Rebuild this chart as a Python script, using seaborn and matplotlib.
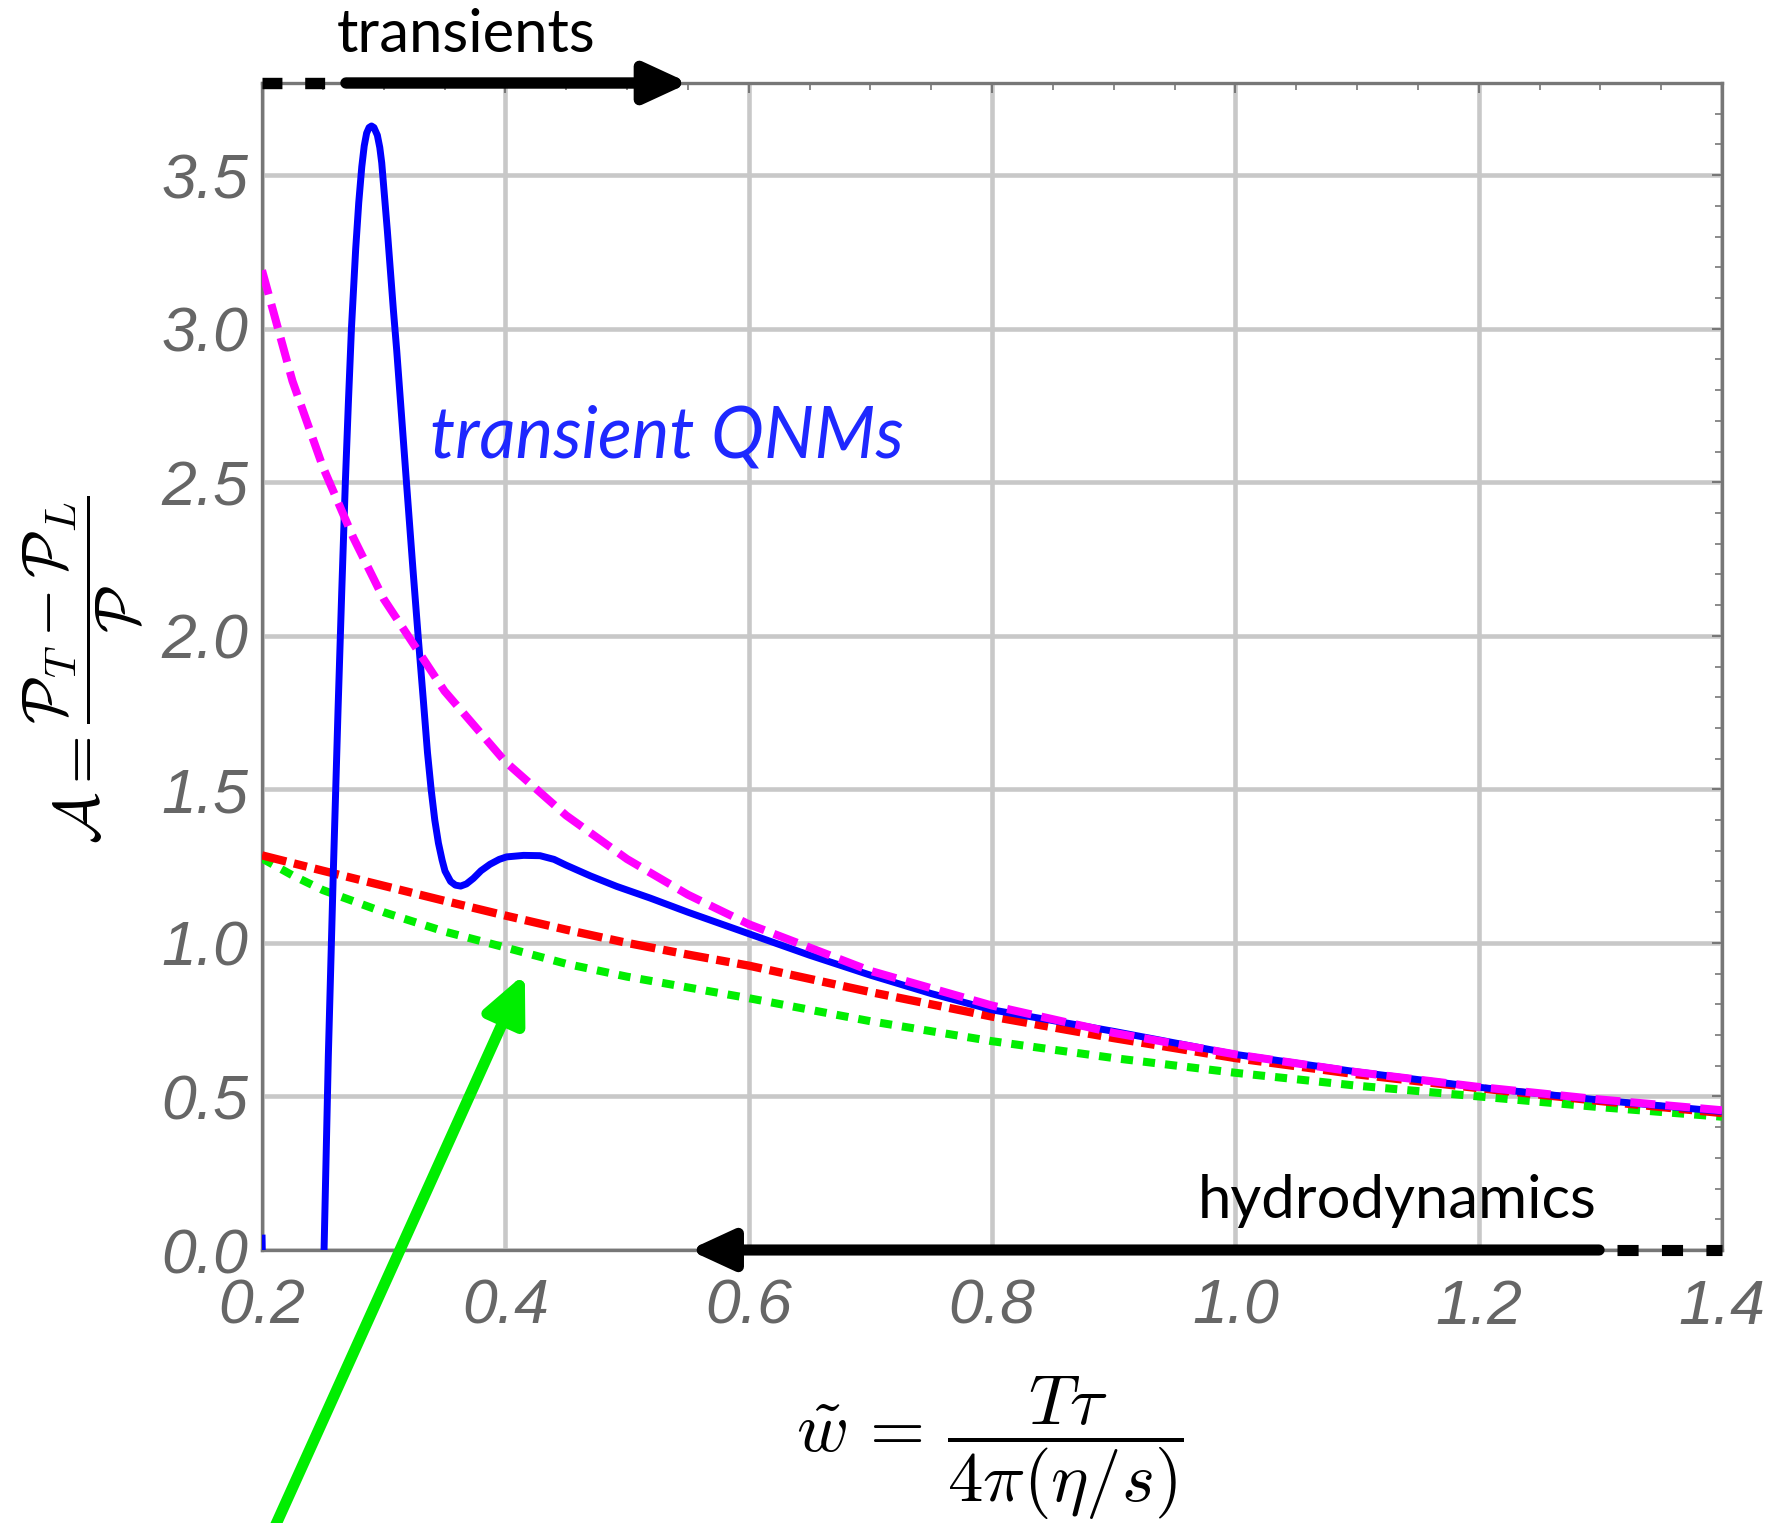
import matplotlib
matplotlib.use("Agg")
import matplotlib.pyplot as plt
import seaborn as sns
import pandas as pd
from matplotlib.ticker import MultipleLocator

# ---------------- data ----------------
blue_x = [0.200, 0.202, 0.210, 0.225, 0.240, 0.251, 0.2545, 0.2586, 0.2625, 0.2655,
          0.2685, 0.2710, 0.2735, 0.2770, 0.2795, 0.2820, 0.2840, 0.2860, 0.2880, 0.2900,
          0.2920, 0.2948, 0.2968, 0.2984, 0.3007, 0.3030, 0.3055, 0.3080, 0.3107, 0.3150,
          0.3189, 0.3240, 0.3285, 0.3326, 0.3360, 0.3390, 0.3420, 0.3450, 0.3480, 0.3504,
          0.3550, 0.3590, 0.3633, 0.3680, 0.3737, 0.3800, 0.3874, 0.3950, 0.4010, 0.4150,
          0.4285, 0.4400, 0.4500, 0.4700, 0.4915, 0.5190, 0.5500,
          0.600, 0.650, 0.700, 0.750, 0.800, 0.900, 1.000, 1.100, 1.200, 1.300, 1.400]
blue_y = [0.05, -0.40, -1.60, -2.20, -1.60, 0.00, 0.63, 1.23, 1.76, 2.14,
          2.50, 2.76, 3.00, 3.26, 3.41, 3.527, 3.595, 3.637, 3.655, 3.660,
          3.655, 3.630, 3.590, 3.540, 3.430, 3.320, 3.190, 3.060, 2.930, 2.700,
          2.490, 2.220, 1.990, 1.790, 1.620, 1.500, 1.400, 1.325, 1.270, 1.234,
          1.200, 1.188, 1.185, 1.192, 1.210, 1.235, 1.256, 1.272, 1.280, 1.285,
          1.284, 1.272, 1.253, 1.218, 1.184, 1.146, 1.100,
          1.030, 0.960, 0.895, 0.835, 0.782, 0.712, 0.637, 0.580, 0.530, 0.488, 0.451]

magenta_x = [0.200, 0.225, 0.250, 0.275, 0.300, 0.350, 0.400, 0.450, 0.500, 0.550,
             0.600, 0.700, 0.800, 0.900, 1.000, 1.100, 1.200, 1.300, 1.400]
magenta_y = [3.19, 2.83, 2.55, 2.32, 2.12, 1.82, 1.59, 1.415, 1.273, 1.157,
             1.061, 0.909, 0.796, 0.707, 0.637, 0.579, 0.531, 0.490, 0.455]

red_x = [0.200, 0.250, 0.300, 0.350, 0.400, 0.450, 0.500, 0.550, 0.600, 0.700,
         0.800, 0.900, 1.000, 1.100, 1.200, 1.300, 1.400]
red_y = [1.285, 1.235, 1.186, 1.137, 1.089, 1.043, 1.000, 0.962, 0.926, 0.840,
         0.760, 0.690, 0.625, 0.572, 0.527, 0.485, 0.446]

green_x = [0.200, 0.225, 0.250, 0.300, 0.350, 0.400, 0.450, 0.500, 0.600, 0.700,
           0.800, 0.900, 1.000, 1.100, 1.200, 1.300, 1.400]
green_y = [1.275, 1.220, 1.172, 1.100, 1.037, 0.985, 0.932, 0.890, 0.820, 0.745,
           0.680, 0.625, 0.577, 0.535, 0.500, 0.465, 0.434]

x_ticks = [0.2, 0.4, 0.6, 0.8, 1.0, 1.2, 1.4]
x_tick_labels = ["0.2", "0.4", "0.6", "0.8", "1.0", "1.2", "1.4"]
y_ticks = [0.0, 0.5, 1.0, 1.5, 2.0, 2.5, 3.0, 3.5]
y_tick_labels = ["0.0", "0.5", "1.0", "1.5", "2.0", "2.5", "3.0", "3.5"]

# ---------------- style ----------------
sns.set_theme(style="white")
plt.rcParams["mathtext.fontset"] = "cm"
plt.rcParams["font.family"] = ["DejaVu Sans"]
plt.rcParams["lines.scale_dashes"] = True

fig = plt.figure(figsize=(17.72, 15.23), dpi=100)
ax = fig.add_axes([0.14786, 0.17925, 0.82393, 0.76625])

GRID = "#c8c8c8"
FRAME = "#777777"
TICKTXT = "#666666"

series = [
    (pd.DataFrame({"x": green_x, "y": green_y}), "#00ee00", 5.8, (0, (1.5, 1.25)), 3),
    (pd.DataFrame({"x": red_x, "y": red_y}), "#ff0000", 6.0, (0, (3.0, 0.95, 1.6, 0.95)), 4),
    (pd.DataFrame({"x": blue_x, "y": blue_y}), "#0000ff", 5.0, "-", 5),
    (pd.DataFrame({"x": magenta_x, "y": magenta_y}), "#ff00ff", 5.8, (0, (3.1, 1.25)), 6),
]
for df, col, lw, ls, z in series:
    n_before = len(ax.lines)
    sns.lineplot(data=df, x="x", y="y", ax=ax, color=col,
                 estimator=None, sort=False, zorder=z)
    for ln in ax.lines[n_before:]:
        ln.set_linewidth(lw)
        ln.set_linestyle(ls)
        ln.set_dash_capstyle("butt")
        ln.set_solid_joinstyle("round")
        ln.set_solid_capstyle("butt")

ax.set_xlim(0.2, 1.4)
ax.set_ylim(0.0, 3.8)
ax.set_xticks(x_ticks)
ax.set_xticklabels(x_tick_labels)
ax.set_yticks(y_ticks)
ax.set_yticklabels(y_tick_labels)
ax.xaxis.set_minor_locator(MultipleLocator(0.05))
ax.yaxis.set_minor_locator(MultipleLocator(0.1))

ax.grid(True, which="major", color=GRID, lw=3.3, zorder=0)
ax.set_axisbelow(True)
for sp in ax.spines.values():
    sp.set_color(FRAME)
    sp.set_linewidth(2.4)
    sp.set_zorder(2)

ax.tick_params(which="both", direction="in", top=True, right=True,
               color=FRAME, labeltop=False, labelright=False)
ax.tick_params(which="major", length=7, width=1.5)
ax.tick_params(which="minor", length=5, width=1.2)
ax.tick_params(axis="x", which="major", pad=20)
ax.tick_params(axis="y", which="major", pad=10)
for lbl in ax.get_xticklabels() + ax.get_yticklabels():
    lbl.set_fontfamily("Liberation Sans")
    lbl.set_fontstyle("italic")
    lbl.set_fontsize(45)
    lbl.set_color(TICKTXT)

ax.set_xlabel(r"$\tilde{w}\,=\,\dfrac{T\tau}{4\pi(\eta/s)}$", fontsize=51, color="black")
ax.xaxis.set_label_coords(0.4986, -0.107)
ax.set_ylabel(r"$\mathcal{A}=\dfrac{\mathcal{P}_T-\mathcal{P}_L}{\mathcal{P}}$",
              fontsize=45, color="black")
ax.yaxis.set_label_coords(-0.080, 0.497)

# ---------------- annotations ----------------
BLK = "black"
# top: dashed lead-in, then solid arrow
ax.plot([0.2, 0.269], [3.8, 3.8], color=BLK, lw=8.2, linestyle=(0, (1.75, 2.0)),
        solid_capstyle="butt", dash_capstyle="butt", clip_on=False, zorder=8)
ax.annotate("", xy=(0.551, 3.8), xytext=(0.269, 3.8),
            arrowprops=dict(arrowstyle="-|>,head_length=26,head_width=12",
                            mutation_scale=1, lw=8.2, color=BLK,
                            shrinkA=0, shrinkB=0),
            annotation_clip=False, zorder=8)
ax.text(0.368, (1250 - 52) / 307.1, "transients",
        fontsize=43, family="Lato", color=BLK, ha="center", va="baseline")

# bottom: solid arrow pointing left, then dashed tail
ax.annotate("", xy=(0.551, 0.0), xytext=(1.299, 0.0),
            arrowprops=dict(arrowstyle="-|>,head_length=26,head_width=12",
                            mutation_scale=1, lw=8.0, color=BLK,
                            shrinkA=0, shrinkB=0),
            annotation_clip=False, zorder=8)
ax.plot([1.3137, 1.4], [0.0, 0.0], color=BLK, lw=8.0, linestyle=(0, (1.9, 2.1)),
        dash_capstyle="butt", clip_on=False, zorder=8)
ax.text(1.133, 0.105, "hydrodynamics", fontsize=43, family="Lato",
        color=BLK, ha="center", va="baseline", zorder=8)

# blue label
ax.text(0.533, 2.58, "transient QNMs", fontsize=51, family="Lato",
        style="italic", color="#1e28ff", ha="center", va="baseline", zorder=8)

# green arrow from below the axes
ax.annotate("", xy=(0.416, 0.90), xytext=(0.2057, -0.944),
            arrowprops=dict(arrowstyle="-|>,head_length=28,head_width=13",
                            mutation_scale=1, lw=8.0, color="#00ee00",
                            shrinkA=0, shrinkB=0),
            annotation_clip=False, zorder=9)

fig.savefig("out.png", dpi=100, facecolor="white")
